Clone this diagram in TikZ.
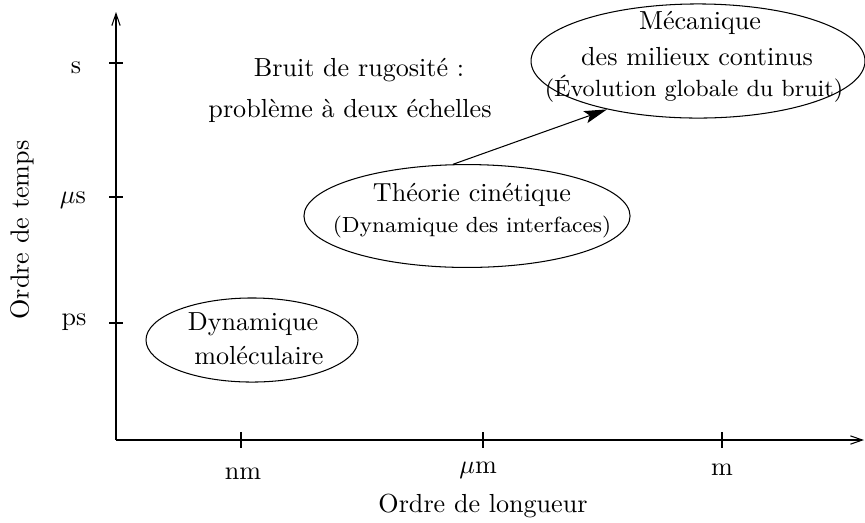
\documentclass[tikz,border=0pt]{standalone}
\usetikzlibrary{shapes.geometric,arrows.meta}
\begin{document}
\begin{tikzpicture}[x=0.383pt,y=-0.383pt,
  oval/.style={draw,ellipse,inner sep=0pt},
  txt/.style={inner sep=0pt,font=\fontsize{10}{12}\selectfont},
  smalltxt/.style={inner sep=0pt,font=\fontsize{8.4}{10}\selectfont},
  smallertxt/.style={inner sep=0pt,font=\fontsize{9}{10}\selectfont},
  axis/.style={line width=0.4pt,-{Straight Barb[length=4.6pt,width=3.2pt]}},
  tick/.style={line width=0.4pt}]
\useasboundingbox (0,0) rectangle (865,522);
% axes
\coordinate (O) at (116,440);
\coordinate (ytop) at (116,12);
\coordinate (xend) at (864,440);
\draw[axis] (O) -- (ytop);
\draw[axis] (O) -- (xend);
% y ticks
\foreach \y in {63,197,323} \draw[tick] (109,\y) -- (123,\y);
% x ticks
\foreach \x in {241,483,722} \draw[tick] (\x,432) -- (\x,448);
% axis labels
\node[txt] (ls) at (76,68) {s};
\node[txt] (lus) at (73,200) {$\mu$s};
\node[txt] (lps) at (74,322) {ps};
\node[txt] (lnm) at (243,474) {nm};
\node[txt] (lum) at (478,470) {$\mu$m};
\node[txt] (lm) at (722,470) {m};
\node[txt] (xl) at (483,506) {Ordre de longueur};
\node[txt,rotate=90] (yl) at (22,230) {Ordre de temps};
% title
\node[txt] (t1) at (359,70) {Bruit de rugosit\'e :};
\node[txt] (t2) at (350,111) {probl\`eme \`a deux \'echelles};
% ellipses
\node[oval,minimum width=81.2pt,minimum height=32.2pt] (md) at (252,340) {};
\node[txt] (md1) at (253,324) {Dynamique};
\node[txt] (md2) at (259,356) {mol\'eculaire};
\node[oval,minimum width=124.9pt,minimum height=39.4pt] (th) at (467,216) {};
\node[txt] (th1) at (472,195) {Th\'eorie cin\'etique};
\node[smalltxt] (th2) at (472,227) {(Dynamique des interfaces)};
\node[oval,minimum width=127.9pt,minimum height=43.7pt] (me) at (698,61) {};
\node[txt] (me1) at (700,23) {M\'ecanique};
\node[txt] (me2) at (697,57) {des milieux continus};
\node[smallertxt] (me3) at (694,89) {(\'Evolution globale du bruit)};
% connector
\draw[line width=0.4pt,-{Stealth[length=8.8pt,width=4.8pt,inset=1.8pt]}] (th.105) -- (me.208);
\end{tikzpicture}
\end{document}
